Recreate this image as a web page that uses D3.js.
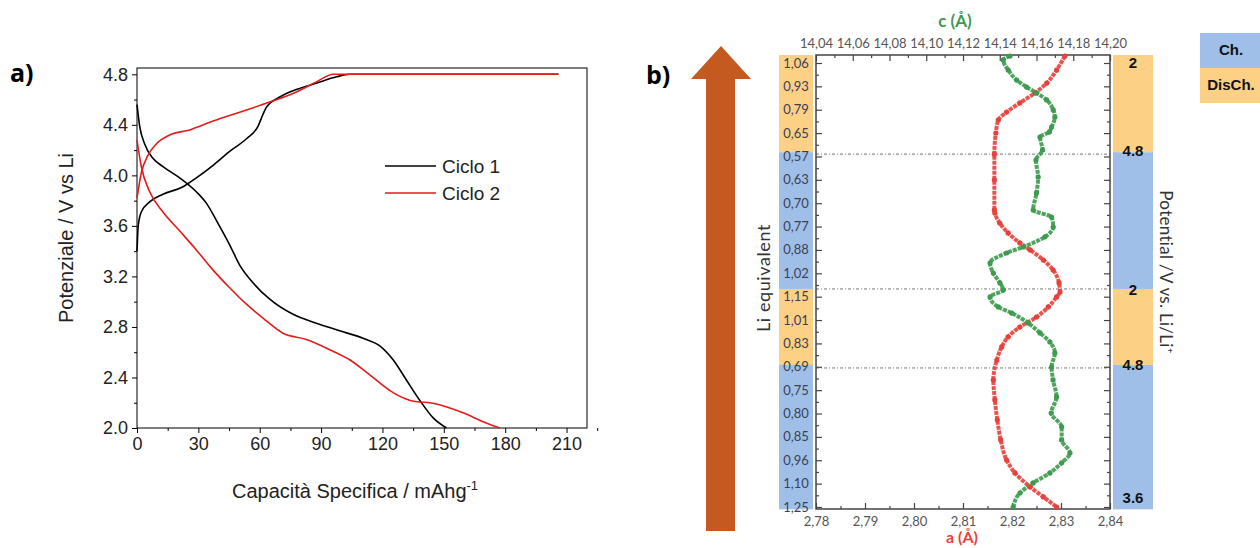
<!DOCTYPE html>
<html>
<head>
<meta charset="utf-8">
<script src="https://cdn.jsdelivr.net/npm/d3@7"></script>
<style>
  body { margin: 0; background: #fff; }
  svg { display: block; }
</style>
</head>
<body>
<svg id="chart" width="1260" height="548"></svg>
<script>
// ---- panel a: charge / discharge curves [capacity, potential]
const ciclo1Carica = [[0,3.40],[0.6,3.60],[2.1,3.71],[6.2,3.79],[12.7,3.85],[22.5,3.91],[29,3.98],[37.2,4.08],[45.3,4.19],
  [53.5,4.29],[59.2,4.39],[61.5,4.48],[63.3,4.54],[69.8,4.62],[77.9,4.68],[87.7,4.73],[97.5,4.78],[104,4.80],[206,4.80]];
const ciclo1Scarica = [[0,4.56],[1.3,4.39],[3.7,4.25],[7.8,4.135],[12.7,4.07],[20.9,3.98],[29,3.87],[33.9,3.78],[39.6,3.62],
  [45.3,3.45],[50.2,3.29],[56.7,3.15],[64.9,3.02],[76.3,2.90],[87.7,2.83],[99.1,2.77],[110.5,2.71],[118.7,2.65],
  [125.2,2.54],[131.7,2.38],[138.2,2.22],[144.8,2.08],[151.3,2.0]];
const ciclo2Carica = [[0,3.82],[2.1,4.02],[5.4,4.16],[9.5,4.25],[16,4.32],[25.8,4.36],[37.2,4.43],[50.2,4.50],[64.9,4.58],
  [77.9,4.66],[87.7,4.74],[95.9,4.80],[206,4.80]];
const ciclo2Scarica = [[0,4.28],[2.1,4.07],[6.2,3.87],[12.7,3.71],[20.9,3.56],[29,3.41],[37.2,3.25],[45.3,3.11],[53.5,2.98],
  [61.6,2.87],[71.4,2.75],[82.8,2.70],[94.2,2.62],[104,2.54],[113.8,2.42],[125.2,2.28],[133.3,2.22],[146.4,2.19],
  [159.4,2.12],[169.2,2.05],[177.4,2.0]];
const seriesA = ["Ciclo 1", "Ciclo 2"];
const capTicks = [0, 30, 60, 90, 120, 150, 180, 210];
const potTicks = [2.0, 2.4, 2.8, 3.2, 3.6, 4.0, 4.4, 4.8];

// ---- panel b: lattice parameters vs scan index [index, value]
const liEquivalent = ["1,06","0,93","0,79","0,65","0,57","0,63","0,70","0,77","0,88","1,02",
  "1,15","1,01","0,83","0,69","0,75","0,80","0,85","0,96","1,10","1,25"];
const paramA = [[-0.3,2.8308],[0.3,2.8291],[0.86,2.8271],[1.28,2.8247],[1.71,2.8216],[2.1,2.8189],[2.44,2.8172],[3.0,2.8167],
  [3.9,2.8164],[5.0,2.8164],[6.29,2.8164],[6.42,2.8165],[6.85,2.8175],[7.27,2.8192],[7.7,2.8216],[8.0,2.8237],[8.43,2.8264],
  [8.86,2.8284],[9.41,2.8296],[9.8,2.8298],[10.01,2.8291],[10.44,2.8274],[10.87,2.825],[11.3,2.8216],[11.72,2.8192],
  [12.15,2.8179],[12.71,2.8169],[13.56,2.8162],[14.42,2.8165],[15.27,2.817],[16.13,2.8177],[16.99,2.8189],[17.54,2.8206],
  [18.14,2.8237],[18.57,2.8264],[19.0,2.8291]];
const paramC = [[-0.3,14.1456],[-0.13,14.1419],[0.3,14.1446],[0.73,14.1492],[1.03,14.1546],[1.28,14.16],[1.58,14.1655],
  [2.01,14.1691],[2.31,14.17],[2.74,14.1682],[2.95,14.167],[3.17,14.1619],[3.72,14.1633],[4.15,14.1597],[4.88,14.1609],
  [5.56,14.16],[6.29,14.1582],[6.59,14.1682],[7.02,14.1691],[7.44,14.1646],[7.87,14.1528],[8.13,14.1437],[8.56,14.1347],
  [8.99,14.1365],[9.41,14.1401],[9.71,14.1419],[10.01,14.1347],[10.44,14.1392],[10.7,14.1465],[11.13,14.1555],
  [11.55,14.1619],[11.94,14.1673],[12.41,14.17],[13.01,14.1682],[13.56,14.169],[14.29,14.1709],[14.98,14.168],
  [15.57,14.1737],[16.13,14.1737],[16.69,14.1782],[17.11,14.1737],[17.54,14.1673],[17.97,14.1582],[18.4,14.151],[19.0,14.1473]];
const aTicks = [2.78, 2.79, 2.80, 2.81, 2.82, 2.83, 2.84];
const cTicks = [14.04, 14.06, 14.08, 14.10, 14.12, 14.14, 14.16, 14.18, 14.20];
// phases along the scan index: DisCh. / Ch.
const phaseType = ["DisCh.", "Ch.", "DisCh.", "Ch."];
const phaseStart = [-0.34, 3.82, 9.67, 12.92];
const phaseEnd = [3.82, 9.67, 12.92, 19.1];
const boundaries = [3.9, 9.67, 13.05];
const potentialLabels = ["2", "4.8", "2", "4.8", "3.6"];
const potentialAt = [0, 3.75, 9.72, 12.9, 18.6];

const svg = d3.select('#chart');
const font = 'Liberation Sans, Arial, sans-serif';
const fontB = 'Lato, Noto Sans, sans-serif';

// ======================= panel a =======================
const xA = d3.scaleLinear().domain([0, 220]).range([137, 587]);
const yA = d3.scaleLinear().domain([2.0, 4.85]).range([428, 68]);

const ga = svg.append('g');
ga.append('text').attr('x', 10).attr('y', 82).text('a)')
  .attr('font-family', 'Open Sans, sans-serif').attr('font-weight', 'bold').attr('font-size', 25);

ga.append('rect').attr('x', xA(0)).attr('y', yA(4.85))
  .attr('width', xA(220) - xA(0)).attr('height', yA(2.0) - yA(4.85))
  .attr('fill', 'none').attr('stroke', '#000').attr('stroke-width', 1);

const axL = ga.append('g').attr('transform', `translate(${xA(0)},0)`)
  .call(d3.axisLeft(yA).tickValues(potTicks).tickFormat(d3.format('.1f')).tickSize(5).tickPadding(4));
axL.append('g').call(d3.axisLeft(yA).tickValues(potTicks.slice(0, -1).map(d => d + 0.2)).tickFormat('').tickSize(3));
const axB = ga.append('g').attr('transform', `translate(0,${yA(2.0)})`)
  .call(d3.axisBottom(xA).tickValues(capTicks).tickSize(5).tickPadding(4));
axB.append('g').call(d3.axisBottom(xA).tickValues(capTicks.map(d => d + 15)).tickFormat('').tickSize(3));
ga.selectAll('.domain').remove();
ga.selectAll('.tick line').attr('stroke', '#000');
ga.selectAll('.tick text').attr('font-family', font).attr('font-size', 18).attr('fill', '#222');

ga.append('text').attr('transform', `translate(73,${(yA(2.0) + yA(4.85)) / 2 - 10}) rotate(-90)`)
  .attr('text-anchor', 'middle').attr('font-family', font).attr('font-size', 20).attr('fill', '#222')
  .text('Potenziale / V vs Li');
const xt = ga.append('text').attr('x', 355).attr('y', 498).attr('text-anchor', 'middle')
  .attr('font-family', font).attr('font-size', 20).attr('fill', '#222');
xt.append('tspan').text('Capacità Specifica / mAhg');
xt.append('tspan').attr('dy', -8).attr('font-size', 13).text('-1');

const lineAy = d3.line().x(d => xA(d[0])).y(d => yA(d[1])).curve(d3.curveMonotoneX);
const colA = ['#000', '#e31b1b'];
[[ciclo1Carica, 0], [ciclo1Scarica, 0], [ciclo2Carica, 1], [ciclo2Scarica, 1]].forEach(([d, s]) => {
  ga.append('path').datum(d).attr('d', lineAy).attr('fill', 'none')
    .attr('stroke', colA[s]).attr('stroke-width', 1.6);
});

const leg = ga.append('g');
seriesA.forEach((s, i) => {
  leg.append('line').attr('x1', 385).attr('x2', 436).attr('y1', 166 + i * 27).attr('y2', 166 + i * 27)
    .attr('stroke', colA[i]).attr('stroke-width', 1.6);
  leg.append('text').attr('x', 442).attr('y', 166 + i * 27).attr('dy', '0.35em')
    .attr('font-family', font).attr('font-size', 19).attr('fill', '#222').text(s);
});

// ======================= panel b =======================
const gb = svg.append('g');
gb.append('text').attr('x', 646).attr('y', 84).text('b)')
  .attr('font-family', 'Open Sans, sans-serif').attr('font-weight', 'bold').attr('font-size', 25);

// arrow
const arrow = d3.path();
arrow.moveTo(721, 46); arrow.lineTo(751, 79); arrow.lineTo(735, 79); arrow.lineTo(735, 531);
arrow.lineTo(706, 531); arrow.lineTo(706, 79); arrow.lineTo(691, 79); arrow.closePath();
gb.append('path').attr('fill', '#c55a20').attr('d', arrow.toString());

const xa = d3.scaleLinear().domain([2.78, 2.84]).range([816, 1110]);
const xc = d3.scaleLinear().domain([14.04, 14.20]).range([816, 1110]);
const yb = d3.scaleLinear().domain([0, 19]).range([63, 507]);
const yTop = 55, yBottom = 509;
const colCh = '#9fbfe8', colDis = '#fcd085';
const phaseColor = t => t === 'Ch.' ? colCh : colDis;

// left and right phase columns
[[779, 34], [1113, 40]].forEach(([x0, w]) => {
  gb.append('g').selectAll('rect').data(phaseType).join('rect')
    .attr('x', x0).attr('width', w)
    .attr('y', (d, i) => Math.max(yTop - 2, yb(phaseStart[i])))
    .attr('height', (d, i) => Math.min(yBottom + 4, yb(phaseEnd[i])) - Math.max(yTop - 2, yb(phaseStart[i])))
    .attr('fill', d => phaseColor(d));
});

gb.append('g').selectAll('text').data(liEquivalent).join('text')
  .attr('x', 796).attr('y', (d, i) => yb(i)).attr('dy', '0.35em').attr('text-anchor', 'middle')
  .attr('font-family', fontB).attr('font-size', 13).attr('fill', '#3b3f55').text(d => d);

gb.append('g').selectAll('text').data(potentialLabels).join('text')
  .attr('x', 1133).attr('y', (d, i) => yb(potentialAt[i])).attr('dy', '0.35em').attr('text-anchor', 'middle')
  .attr('font-family', font).attr('font-weight', 'bold').attr('font-size', 15).attr('fill', '#111').text(d => d);

// dotted phase boundaries
gb.append('g').selectAll('line').data(boundaries).join('line')
  .attr('x1', 816).attr('x2', 1110).attr('y1', d => yb(d)).attr('y2', d => yb(d))
  .attr('stroke', '#777').attr('stroke-width', 1).attr('stroke-dasharray', '3,2,1,2');

// axes
const comma = f => d => d3.format(f)(d).replace('.', ',');
const axT = gb.append('g').attr('transform', `translate(0,${yTop})`)
  .call(d3.axisTop(xc).tickValues(cTicks).tickFormat(comma('.2f')).tickSize(-6).tickPadding(7));
axT.append('g').call(d3.axisTop(xc).tickValues(cTicks.slice(0, -1).map(d => d + 0.01)).tickFormat('').tickSize(-3));
const axBb = gb.append('g').attr('transform', `translate(0,${yBottom})`)
  .call(d3.axisBottom(xa).tickValues(aTicks).tickFormat(comma('.2f')).tickSize(-6).tickPadding(8));
axBb.append('g').call(d3.axisBottom(xa).tickValues(aTicks.slice(0, -1).map(d => d + 0.005)).tickFormat('').tickSize(-3));
const idx = d3.range(20);
const halfIdx = d3.range(19).map(i => i + 0.5);
[[d3.axisLeft, 816], [d3.axisRight, 1110]].forEach(([ax, x0]) => {
  const g = gb.append('g').attr('transform', `translate(${x0},0)`)
    .call(ax(yb).tickValues(idx).tickFormat('').tickSize(-6));
  g.append('g').call(ax(yb).tickValues(halfIdx).tickFormat('').tickSize(-3));
});
gb.selectAll('.domain').remove();
gb.selectAll('.tick line').attr('stroke', '#444').attr('stroke-width', 1.2);
gb.selectAll('.tick text').attr('font-family', fontB).attr('font-size', 13).attr('fill', '#555');

gb.append('rect').attr('x', 816).attr('y', yTop).attr('width', 1110 - 816).attr('height', yBottom - yTop)
  .attr('fill', 'none').attr('stroke', '#444').attr('stroke-width', 1.5);

// series
const colA2 = '#e8413c', colC = '#3d9a4e';
const lineC = d3.line().x(d => xc(d[1])).y(d => yb(d[0])).curve(d3.curveMonotoneY);
const lineAA = d3.line().x(d => xa(d[1])).y(d => yb(d[0])).curve(d3.curveMonotoneY);
gb.append('path').datum(paramA).attr('d', lineAA).attr('fill', 'none').attr('stroke', colA2)
  .attr('stroke-width', 4).attr('stroke-dasharray', '4,1').attr('opacity', 0.9);
gb.append('path').datum(paramC).attr('d', lineC).attr('fill', 'none').attr('stroke', colC)
  .attr('stroke-width', 4).attr('stroke-dasharray', '4,1').attr('opacity', 0.9);
gb.append('g').selectAll('circle').data(paramA).join('circle')
  .attr('cx', d => xa(d[1])).attr('cy', d => yb(d[0])).attr('r', 2.6).attr('fill', colA2);
gb.append('g').selectAll('circle').data(paramC).join('circle')
  .attr('cx', d => xc(d[1])).attr('cy', d => yb(d[0])).attr('r', 2.6).attr('fill', colC);

// titles
gb.append('text').attr('x', 955).attr('y', 27).attr('text-anchor', 'middle')
  .attr('font-family', fontB).attr('font-weight', 'bold').attr('font-size', 17).attr('fill', colC).text('c (Å)');
gb.append('text').attr('x', 962).attr('y', 543).attr('text-anchor', 'middle')
  .attr('font-family', fontB).attr('font-weight', 'bold').attr('font-size', 16).attr('fill', colA2).text('a (Å)');
gb.append('text').attr('transform', 'translate(770,278) rotate(-90)').attr('text-anchor', 'middle')
  .attr('font-family', fontB).attr('font-size', 18).attr('letter-spacing', 0.6).attr('fill', '#333').text('Li equivalent');
gb.append('text').attr('transform', 'translate(1160,272) rotate(90)').attr('text-anchor', 'middle')
  .attr('font-family', fontB).attr('font-size', 17).attr('letter-spacing', 0.3).attr('fill', '#333').text('Potential /V vs. Li/Li⁺');

// legend box
const lg = gb.append('g');
['Ch.', 'DisCh.'].forEach((t, i) => {
  lg.append('rect').attr('x', 1200).attr('y', 33 + i * 35).attr('width', 62).attr('height', 35)
    .attr('fill', phaseColor(t));
  lg.append('text').attr('x', 1231).attr('y', 50 + i * 35).attr('dy', '0.35em').attr('text-anchor', 'middle')
    .attr('font-family', font).attr('font-weight', 'bold').attr('font-size', 15).attr('fill', '#111').text(t);
});
</script>
</body>
</html>
